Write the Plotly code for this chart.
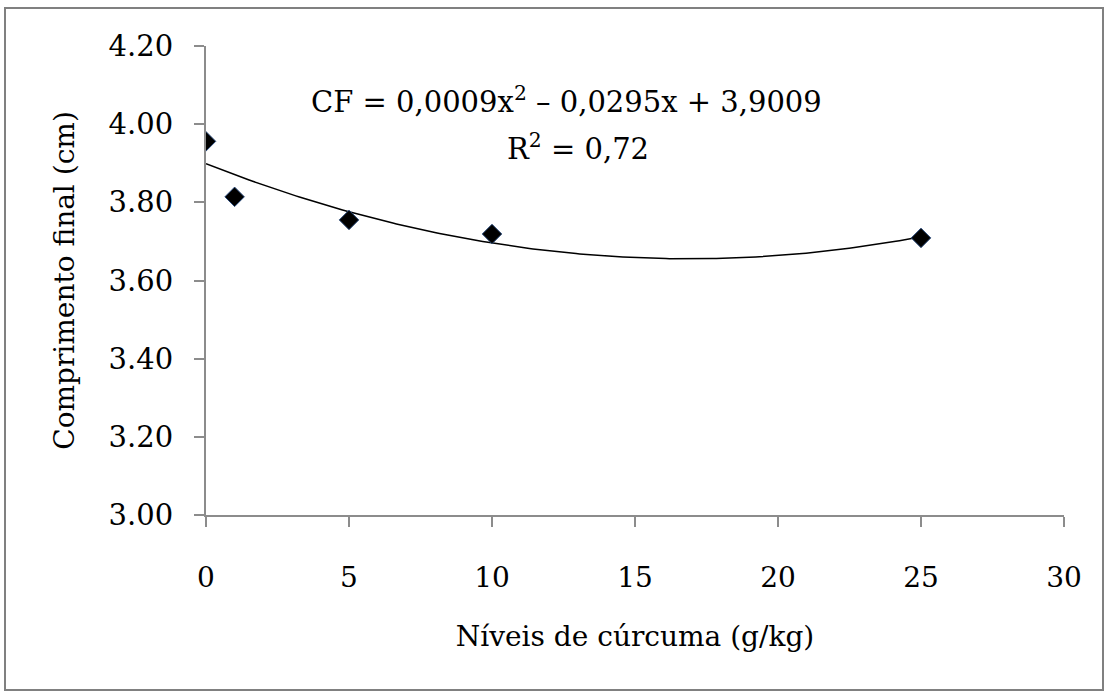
import numpy as np
import plotly.graph_objects as go

# Data
niveis = [0, 1, 5, 10, 25]
comprimento = [3.956, 3.814, 3.755, 3.719, 3.709]
x_ticks = [0, 5, 10, 15, 20, 25, 30]
y_ticks = [3.00, 3.20, 3.40, 3.60, 3.80, 4.00, 4.20]
eq_text = "CF = 0,0009x<sup>2</sup> – 0,0295x + 3,9009"
r2_text = "R<sup>2</sup> = 0,72"

# Quadratic trend fitted on the data
coef = np.polyfit(niveis, comprimento, 2)
xs = np.linspace(min(niveis), max(niveis), 200)
ys = np.polyval(coef, xs)

FONT = "DejaVu Serif"
FS = 28
AXC = "#8c8c8c"

fig = go.Figure()
fig.add_trace(go.Scatter(x=xs, y=ys, mode="lines",
                         line=dict(color="black", width=1.5), hoverinfo="skip"))
fig.add_trace(go.Scatter(x=niveis, y=comprimento, mode="markers",
                         marker=dict(symbol="diamond", size=15, color="black",
                                     line=dict(color="#2a4a7a", width=1))))

L, R, T, B = 206, 46, 46, 178
W, H = 1110, 693
pw = W - L - R
ph = H - T - B

def px2x(p):
    return (p - L) / pw

def py2y(p):
    return (H - B - p) / ph

fig.update_layout(
    width=W, height=H,
    margin=dict(l=L, r=R, t=T, b=B),
    paper_bgcolor="white", plot_bgcolor="white",
    showlegend=False,
    font=dict(family=FONT, color="black", size=FS),
    xaxis=dict(range=[0, 30], tickvals=x_ticks, showgrid=False, zeroline=False,
               showline=True, linecolor=AXC, linewidth=2,
               ticks="outside", ticklen=10, tickcolor=AXC, tickwidth=2,
               tickfont=dict(family=FONT, size=FS), ticklabelstandoff=26,
               title=dict(text="Níveis de cúrcuma (g/kg)", standoff=34,
                          font=dict(family=FONT, size=FS))),
    yaxis=dict(range=[3.0, 4.2], tickvals=y_ticks, tickformat=".2f",
               showgrid=False, zeroline=False,
               showline=True, linecolor=AXC, linewidth=2,
               ticks="outside", ticklen=10, tickcolor=AXC, tickwidth=2,
               tickfont=dict(family=FONT, size=29), ticklabelstandoff=15,
               title=dict(text="Comprimento final (cm)", standoff=26,
                          font=dict(family=FONT, size=FS))),
    shapes=[dict(type="rect", xref="paper", yref="paper",
                 x0=px2x(5), x1=px2x(1103), y0=py2y(690), y1=py2y(8),
                 line=dict(color="#808080", width=2), fillcolor="rgba(0,0,0,0)",
                 layer="below")],
    annotations=[
        dict(x=px2x(566), y=py2y(100), xref="paper", yref="paper",
             text=eq_text, showarrow=False, xanchor="center", yanchor="middle",
             font=dict(family=FONT, size=29)),
        dict(x=px2x(578), y=py2y(147), xref="paper", yref="paper",
             text=r2_text, showarrow=False, xanchor="center", yanchor="middle",
             font=dict(family=FONT, size=29)),
    ],
)

fig.write_html("out.html")
